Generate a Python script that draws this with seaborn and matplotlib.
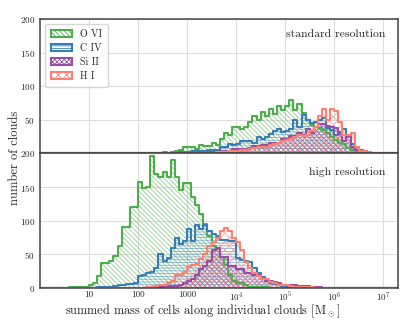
import numpy as np
import pandas as pd
import matplotlib
matplotlib.use("Agg")
import matplotlib.pyplot as plt
import seaborn as sns
from matplotlib.patches import Patch

# bins: 12 per decade in log10(M), from 10^0 to 10^8
bin_width_log = 1 / 12
bin_range_log = (0, 8)
bin_edges_log = np.arange(97) / 12
bin_centers = 10 ** ((bin_edges_log[:-1] + bin_edges_log[1:]) / 2)

species = ["O VI", "C IV", "Si II", "H I"]
colors = ["#4daf4a", "#377eb8", "#984ea3", "#fb8072"]
hatches = ["\\" * 7, "-" * 6, "x" * 7, "xxxx"]
panel_labels = ["standard resolution", "high resolution"]

z = [0] * 12

# standard resolution counts, one row per decade
ovi_std = (z + z
           + [0, 0, 1, 1, 1, 1, 2, 1, 2, 3, 5, 9]
           + [9, 9, 6, 13, 11, 11, 16, 12, 21, 31, 27, 39]
           + [39, 37, 40, 46, 56, 49, 61, 56, 66, 58, 71, 64]
           + [70, 79, 64, 74, 60, 49, 42, 40, 38, 35, 30, 24]
           + [20, 15, 14, 8, 5, 4, 2, 1, 1, 0, 0, 0]
           + z)
civ_std = (z + z
           + [0, 0, 0, 0, 0, 0, 1, 1, 1, 1, 2, 2]
           + [2, 3, 3, 3, 4, 5, 5, 5, 9, 9, 14, 12]
           + [14, 19, 19, 19, 15, 24, 22, 24, 29, 34, 36, 32]
           + [34, 36, 49, 40, 57, 50, 45, 47, 50, 53, 38, 35]
           + [28, 32, 36, 26, 14, 9, 5, 3, 2, 1, 0, 0]
           + z)
siii_std = (z + z + z
            + [0, 1, 1, 1, 2, 2, 2, 2, 4, 4, 4, 6]
            + [6, 6, 6, 8, 11, 11, 13, 13, 16, 16, 16, 22]
            + [22, 26, 26, 31, 27, 36, 30, 39, 44, 44, 41, 40]
            + [38, 29, 19, 26, 9, 5, 3, 2, 1, 0, 0, 0]
            + z)
hi_std = (z + z + z
          + [0, 0, 0, 1, 1, 1, 1, 2, 2, 2, 3, 3]
          + [4, 5, 5, 7, 8, 9, 10, 10, 12, 14, 16, 18]
          + [20, 22, 24, 28, 26, 28, 34, 39, 56, 66, 50, 66]
          + [63, 46, 28, 27, 30, 9, 4, 3, 2, 1, 0, 0]
          + z)

# high resolution counts
ovi_high = ([0, 0, 0, 0, 0, 0, 0, 1, 1, 1, 1, 2]
            + [4, 8, 18, 37, 37, 40, 48, 62, 90, 90, 120, 120]
            + [157, 148, 150, 196, 170, 165, 172, 165, 190, 165, 145, 156]
            + [156, 135, 124, 110, 95, 78, 62, 58, 46, 34, 20, 10]
            + [8, 7, 4, 2, 2, 2, 1, 1, 0, 0, 0, 0]
            + z + z + z)
civ_high = (z
            + [0, 0, 1, 1, 2, 2, 3, 4, 5, 6, 6, 8]
            + [18, 20, 22, 24, 29, 51, 40, 45, 59, 75, 66, 70]
            + [88, 70, 94, 88, 93, 85, 80, 78, 72, 72, 70, 70]
            + [45, 42, 40, 38, 30, 22, 16, 12, 8, 6, 4, 3]
            + [2, 2, 1, 1, 0, 0, 0, 0, 0, 0, 0, 0]
            + z + z)
siii_high = (z + z
             + [0, 0, 1, 1, 1, 2, 3, 3, 3, 3, 5, 8]
             + [10, 13, 20, 28, 33, 40, 56, 60, 46, 46, 33, 33]
             + [28, 28, 23, 23, 19, 19, 15, 11, 10, 9, 8, 4]
             + [4, 4, 4, 3, 3, 3, 2, 2, 1, 0, 0, 0]
             + z + z)
hi_high = (z + z
           + [0, 0, 1, 2, 3, 5, 5, 7, 10, 19, 19, 24]
           + [31, 34, 36, 43, 51, 62, 68, 75, 84, 89, 84, 74]
           + [69, 56, 39, 30, 22, 18, 13, 14, 9, 7, 5, 4]
           + [4, 3, 2, 2, 1, 1, 1, 0, 0, 0, 0, 0]
           + z + z)

panels = [
    [ovi_std, civ_std, siii_std, hi_std],
    [ovi_high, civ_high, siii_high, hi_high],
]

sns.set_style("whitegrid")
plt.rcParams.update({
    "font.family": "serif",
    "font.serif": ["cmr10"],
    "mathtext.fontset": "cm",
    "axes.formatter.use_mathtext": True,
    "hatch.linewidth": 0.6,
    "axes.edgecolor": "#444444",
    "axes.linewidth": 1.0,
    "grid.color": "#dddddd",
    "grid.linewidth": 0.8,
})

fig, axes = plt.subplots(2, 1, figsize=(4.07, 3.2), dpi=100, sharex=True)
fig.subplots_adjust(left=0.098, right=0.978, top=0.941, bottom=0.1, hspace=0)

for ax, counts, label in zip(axes, panels, panel_labels):
    for c, col, h in zip(counts, colors, hatches):
        df = pd.DataFrame({"mass": bin_centers, "n": c})
        sns.histplot(data=df, x="mass", weights="n", binwidth=bin_width_log,
                     binrange=bin_range_log, log_scale=True,
                     element="step", fill=True, ax=ax)
        poly = ax.collections[-1]
        poly.set_facecolor("none")
        poly.set_edgecolor(matplotlib.colors.to_rgba(col, 0.6))
        poly.set_hatch(h)
        poly.set_linewidth(0)
        sns.histplot(data=df, x="mass", weights="n", binwidth=bin_width_log,
                     binrange=bin_range_log, log_scale=True,
                     element="step", fill=False, color=col, linewidth=1.5, ax=ax)
    ax.set_ylim(0, 200)
    ax.set_xlim(1, 2e7)
    ax.set_ylabel("")
    ax.set_xlabel("")
    for s in ax.spines.values():
        s.set_zorder(5)
        s.set_linewidth(1.1)
    ax.text(0.966, 0.885 if label.startswith("standard") else 0.862, label,
            transform=ax.transAxes, ha="right", va="center", fontsize=8.4)
    ax.tick_params(axis="both", which="major", labelsize=6.5, length=2,
                   direction="out", color="#444444", pad=1.5)
    ax.tick_params(axis="x", which="minor", length=0)
    ax.tick_params(axis="x", which="major", length=1.5, pad=0.3)

axes[0].set_yticks([50, 100, 150, 200])
axes[1].set_yticks([0, 50, 100, 150, 200])
axes[1].set_xticks([10, 100, 1000, 1e4, 1e5, 1e6, 1e7])
axes[1].set_xticklabels(["10", "100", "1000", "$10^4$", "$10^5$", "$10^6$", "$10^7$"])
fig.text(0.499, 0.026, r"summed mass of cells along individual clouds [M$_\odot$]",
         ha="center", va="center", fontsize=8.8)
fig.text(0.037, 0.506, "number of clouds", rotation=90, ha="center", va="center",
         fontsize=9)

handles = [Patch(facecolor="white", edgecolor=col, hatch=h, linewidth=1.5)
           for col, h in zip(colors, hatches)]
axes[0].legend(handles, species, loc="upper left", fontsize=7.2,
               handlelength=2.1, handleheight=0.7, handletextpad=0.8,
               borderpad=0.6, labelspacing=0.42, frameon=True)

fig.savefig("out.png", dpi=100)
